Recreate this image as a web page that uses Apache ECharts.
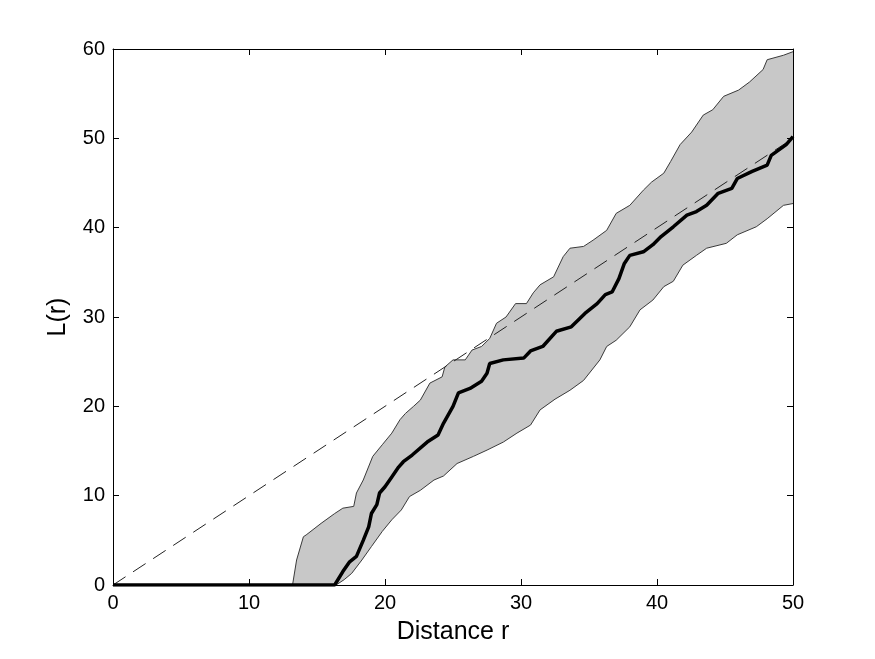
<!DOCTYPE html>
<html>
<head>
<meta charset="utf-8">
<script src="https://cdn.jsdelivr.net/npm/echarts@6/dist/echarts.min.js"></script>
<style>html,body{margin:0;padding:0;background:#fff}#c{width:875px;height:659px}</style>
</head>
<body>
<div id="c"></div>
<script>
const xTicks = [0, 10, 20, 30, 40, 50];
const yTicks = [0, 10, 20, 30, 40, 50, 60];
const xName = 'Distance r';
const yName = 'L(r)';

const observed = [[0,0],[16.3,0],[16.9,1.5],[17.4,2.6],[17.9,3.2],[18.4,5.0],[18.8,6.5],[19.0,8.0],[19.4,9.0],[19.6,10.3],[20.0,11.0],[20.5,12.1],[21.0,13.2],[21.35,13.8],[22.0,14.55],[22.1,14.7],[23.1,16.0],[23.9,16.8],[24.3,18.1],[25.0,20.0],[25.4,21.5],[26.25,22.0],[27.1,22.8],[27.5,23.7],[27.7,24.8],[28.7,25.2],[30.2,25.4],[30.7,26.2],[31.6,26.7],[32.6,28.4],[33.7,28.9],[34.7,30.4],[35.6,31.5],[36.2,32.5],[36.7,32.8],[37.2,34.3],[37.6,36.0],[38.0,36.9],[39.0,37.3],[39.7,38.1],[40.3,39.0],[41.2,40.1],[42.2,41.4],[42.9,41.8],[43.65,42.5],[44.5,43.85],[45.5,44.4],[45.9,45.5],[47.0,46.3],[48.1,47.0],[48.4,48.1],[49.5,49.3],[50,50.2]];

const upper = [[13.2,0],[13.5,2.8],[14.0,5.4],[14.2,5.6],[15.3,6.9],[16.3,8.0],[16.9,8.6],[17.7,8.8],[17.9,10.3],[18.4,11.75],[19.1,14.4],[19.8,15.7],[20.5,17.0],[21.1,18.5],[21.5,19.2],[22.1,20.0],[22.6,20.7],[23.3,22.6],[24.2,23.3],[24.4,24.4],[25.0,25.2],[25.9,25.2],[26.4,26.3],[27.1,26.7],[27.7,27.6],[28.2,29.3],[28.9,30.0],[29.6,31.5],[30.4,31.5],[30.9,32.7],[31.4,33.6],[32.4,34.5],[33.1,36.75],[33.6,37.7],[34.6,37.9],[35.3,38.6],[36.3,39.7],[37.0,41.6],[38.0,42.5],[39.0,44.2],[39.6,45.1],[40.5,46.1],[41.0,47.4],[41.7,49.3],[42.55,50.7],[43.4,52.6],[44.1,53.2],[44.9,54.7],[46.0,55.4],[46.8,56.3],[47.8,57.7],[48.1,58.8],[49.3,59.3],[50,59.7]];

const lower = [[13.2,0],[16.4,0],[17.0,0.6],[17.55,1.3],[18.3,2.8],[19.0,4.3],[19.8,6.0],[20.5,7.3],[21.2,8.4],[21.8,9.9],[22.6,10.6],[23.6,11.75],[24.3,12.2],[25.3,13.6],[26.5,14.4],[27.5,15.1],[28.7,16.0],[29.7,17.0],[30.7,17.9],[31.4,19.6],[32.5,20.8],[33.6,21.8],[34.6,22.9],[35.8,25.2],[36.3,26.7],[37.0,27.4],[38.0,28.9],[38.75,30.8],[39.7,31.9],[40.5,33.4],[41.2,34.0],[41.9,35.8],[42.9,36.9],[43.65,37.7],[45.1,38.25],[45.9,39.2],[47.3,40.1],[48.1,41.0],[49.3,42.5],[50,42.7]];

const expected = [[0,0],[50,50]];

const font = 'Arial, "Liberation Sans", Helvetica, sans-serif';
const chart = echarts.init(document.getElementById('c'), null, {renderer:'canvas'});

const axisCommon = {
  type: 'value',
  splitLine: {show:false},
  axisLine: {show:true, onZero:false, lineStyle:{color:'#000', width:1}},
  axisTick: {show:true, inside:true, length:6, lineStyle:{color:'#000'}},
  z: 10
};

chart.setOption({
  animation: false,
  backgroundColor: '#fff',
  grid: {left:113, right:82, top:49, bottom:74, show:false},
  xAxis: [
    Object.assign({}, axisCommon, {
      min: xTicks[0], max: xTicks[xTicks.length-1], interval: 10,
      position: 'bottom',
      name: xName, nameLocation: 'middle', nameGap: 35,
      nameTextStyle: {fontFamily: font, fontSize: 25, color:'#000'},
      axisLabel: {fontFamily: font, fontSize: 20, color:'#000', margin: 8}
    }),
    Object.assign({}, axisCommon, {
      min: xTicks[0], max: xTicks[xTicks.length-1], interval: 10,
      position: 'top', axisLabel: {show:false}
    })
  ],
  yAxis: [
    Object.assign({}, axisCommon, {
      min: yTicks[0], max: yTicks[yTicks.length-1], interval: 10,
      position: 'left',
      name: yName, nameLocation: 'middle', nameGap: 42, nameRotate: 90,
      nameTextStyle: {fontFamily: font, fontSize: 25, color:'#000'},
      axisLabel: {fontFamily: font, fontSize: 20, color:'#000', margin: 8}
    }),
    Object.assign({}, axisCommon, {
      min: yTicks[0], max: yTicks[yTicks.length-1], interval: 10,
      position: 'right', axisLabel: {show:false}
    })
  ],
  series: [
    {
      type: 'custom',
      z: 1,
      silent: true,
      data: [[0,0]],
      renderItem: function (params, api) {
        const pts = upper.map(p => api.coord(p)).concat(lower.slice().reverse().map(p => api.coord(p)));
        return {type:'polygon', shape:{points:pts}, style:{fill:'#c8c8c8', stroke:null}};
      }
    },
    {
      type: 'line', data: upper, symbol: 'none', z: 3,
      lineStyle: {color:'#3a3a3a', width:1}
    },
    {
      type: 'line', data: lower, symbol: 'none', z: 3,
      lineStyle: {color:'#3a3a3a', width:1}
    },
    {
      type: 'line', data: expected, symbol: 'none', z: 4,
      lineStyle: {color:'#222', width:1, type:[15,9]}
    },
    {
      type: 'line', data: observed, symbol: 'none', z: 5,
      lineStyle: {color:'#000', width:3.5}
    }
  ]
});
</script>
</body>
</html>
